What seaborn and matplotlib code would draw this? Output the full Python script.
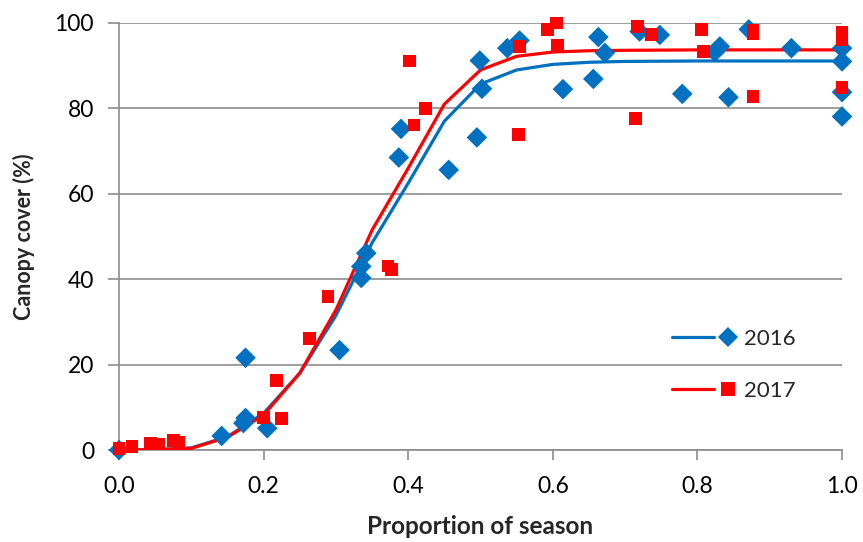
import matplotlib
matplotlib.use("Agg")
import matplotlib.pyplot as plt
from matplotlib.lines import Line2D
from matplotlib.legend_handler import HandlerBase
import seaborn as sns
import pandas as pd

# ---- data ----
x2016 = [0.0, 0.142, 0.175, 0.175, 0.172, 0.205, 0.305, 0.335, 0.335, 0.342, 0.387, 0.390,
         0.456, 0.495, 0.499, 0.502, 0.537, 0.554, 0.614, 0.656, 0.663, 0.672, 0.720, 0.748,
         0.779, 0.824, 0.831, 0.843, 0.871, 0.930, 1.0, 1.0, 1.0, 1.0]
y2016 = [0.0, 3.3, 21.6, 7.5, 6.3, 5.1, 23.4, 40.3, 43.0, 46.1, 68.5, 75.2,
         65.6, 73.2, 91.2, 84.6, 94.1, 95.9, 84.5, 86.9, 96.7, 93.0, 98.0, 97.2,
         83.4, 93.2, 94.5, 82.6, 98.5, 94.1, 94.1, 91.0, 83.8, 78.1]

x2017 = [0.0, 0.018, 0.044, 0.055, 0.075, 0.083, 0.200, 0.218, 0.225, 0.264, 0.289, 0.372,
         0.377, 0.402, 0.408, 0.424, 0.552, 0.554, 0.593, 0.605, 0.607, 0.714, 0.717, 0.736,
         0.806, 0.808, 0.877, 0.877, 0.877, 1.0, 1.0, 1.0]
y2017 = [0.3, 0.9, 1.6, 1.4, 2.3, 1.7, 7.7, 16.2, 7.4, 26.2, 35.9, 43.1,
         42.2, 91.1, 76.1, 80.0, 73.8, 94.5, 98.4, 100.0, 94.8, 77.7, 99.1, 97.3,
         98.5, 93.3, 98.2, 97.6, 82.8, 97.8, 96.0, 84.9]

fit_x = [0.0, 0.05, 0.1, 0.15, 0.2, 0.25, 0.3, 0.35, 0.4, 0.45, 0.5, 0.55, 0.6, 0.65, 0.7, 0.8, 0.9, 1.0]
fit2016 = [0.0, 0.1, 0.5, 3.1, 8.6, 18.0, 31.5, 48.5, 62.5, 77.0, 85.7, 89.0, 90.3, 90.8, 91.0, 91.1, 91.1, 91.1]
fit2017 = [0.0, 0.1, 0.4, 3.0, 8.2, 18.0, 32.8, 51.5, 66.0, 81.0, 89.0, 92.2, 93.2, 93.5, 93.6, 93.7, 93.7, 93.7]

years = ["2016", "2017"]
colors = {"2016": "#0070C0", "2017": "#FF0000"}
LW = 2.3


class LineThenMarker(HandlerBase):
    """Legend key: short line on the left, marker to its right."""
    def __init__(self, color, marker, ms):
        super().__init__()
        self.color, self.marker, self.ms = color, marker, ms

    def create_artists(self, legend, orig_handle, xdescent, ydescent,
                       width, height, fontsize, trans):
        y = height / 2 - ydescent
        x0 = -xdescent
        ln = Line2D([x0, x0 + 0.66 * width], [y, y], color=self.color,
                    linewidth=LW, transform=trans)
        mk = Line2D([x0 + 0.875 * width], [y], color=self.color, marker=self.marker,
                    markersize=self.ms, linestyle="none", markeredgewidth=0,
                    transform=trans)
        return [ln, mk]


# ---- figure ----
sns.set_theme(style="white")
plt.rcParams["font.family"] = ["Lato", "DejaVu Sans"]

fig = plt.figure(figsize=(8.63, 5.42), dpi=100)
ax = fig.add_axes([0.1379, 0.1697, 0.8378, 0.7879])

fit_df = pd.DataFrame({"x": fit_x + fit_x,
                       "y": fit2016 + fit2017,
                       "year": ["2016"] * len(fit_x) + ["2017"] * len(fit_x)})
for yr in years:
    sns.lineplot(data=fit_df[fit_df.year == yr], x="x", y="y", color=colors[yr],
                 linewidth=LW, ax=ax, zorder=3, legend=False)

pts16 = pd.DataFrame({"x": x2016, "y": y2016})
pts17 = pd.DataFrame({"x": x2017, "y": y2017})
sns.scatterplot(data=pts16, x="x", y="y", marker="D", s=110, color=colors["2016"],
                edgecolor="none", linewidth=0, ax=ax, zorder=4, legend=False,
                clip_on=False)
sns.scatterplot(data=pts17, x="x", y="y", marker="s", s=85, color=colors["2017"],
                edgecolor="none", linewidth=0, ax=ax, zorder=5, legend=False,
                clip_on=False)

ax.set_xlim(0, 1.0)
ax.set_ylim(0, 100)
ax.set_xticks([0.0, 0.2, 0.4, 0.6, 0.8, 1.0])
ax.set_xticklabels(["0.0", "0.2", "0.4", "0.6", "0.8", "1.0"])
ax.set_yticks([0, 20, 40, 60, 80, 100])
ax.yaxis.grid(True, color="#8c8c8c", linewidth=1.2)
ax.xaxis.grid(False)
ax.set_axisbelow(True)
for s in ["top", "right"]:
    ax.spines[s].set_visible(False)
for s in ["left", "bottom"]:
    ax.spines[s].set_color("#8c8c8c")
    ax.spines[s].set_linewidth(1.2)
    ax.spines[s].set_zorder(1)
ax.tick_params(axis="x", direction="out", length=7, width=1.2, color="#8c8c8c",
               labelsize=16.5, pad=12, labelcolor="black", bottom=True)
ax.tick_params(axis="y", direction="out", length=8, width=1.2, color="#8c8c8c",
               labelsize=16.5, pad=10, labelcolor="black", left=True)
ax.set_xlabel("Proportion of season", fontsize=17.5, fontweight="bold", labelpad=13)
ax.set_ylabel("Canopy cover (%)", fontsize=15.5, fontweight="bold", labelpad=14)

h16 = Line2D([], [], color=colors["2016"])
h17 = Line2D([], [], color=colors["2017"])
leg = ax.legend([h16, h17], years,
                handler_map={h16: LineThenMarker(colors["2016"], "D", 10.5),
                             h17: LineThenMarker(colors["2017"], "s", 10)},
                loc="center left", bbox_to_anchor=(0.752, 0.199), borderaxespad=0,
                frameon=False, fontsize=16, labelspacing=1.45,
                handlelength=2.88, handletextpad=0.4)

fig.savefig("out.png", dpi=100)
